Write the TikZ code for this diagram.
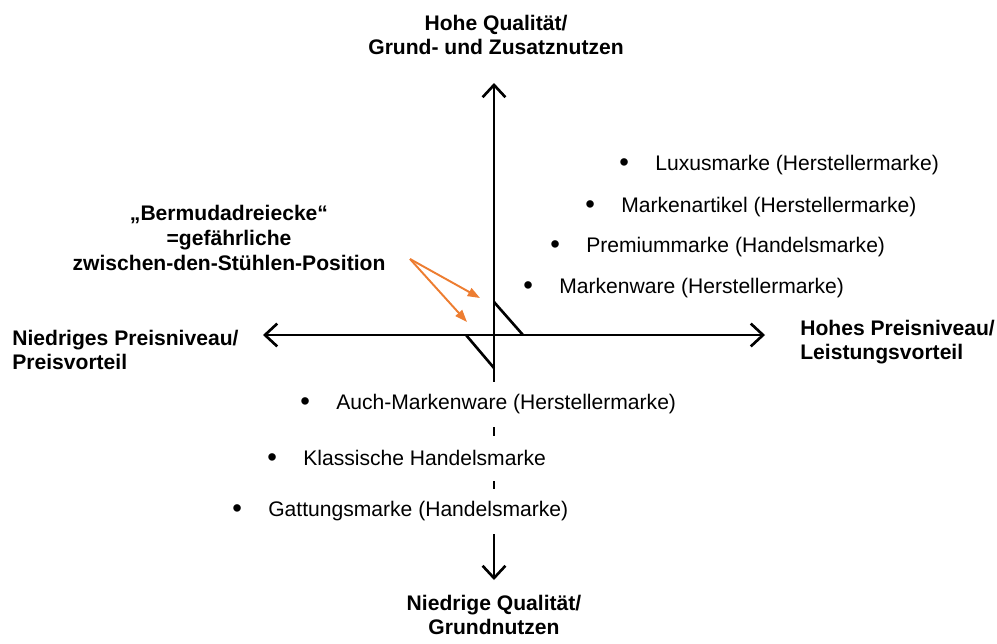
\documentclass[tikz,border=0pt]{standalone}
\usepackage{fontspec}
\setmainfont{Liberation Sans}
\usetikzlibrary{arrows.meta}
\definecolor{bermudaorange}{RGB}{237,125,49}

\newcommand{\marke}[1]{\raisebox{-0.06em}{\scalebox{1.3}{\textbullet}}\hspace{15pt}#1}

\begin{document}
\begin{tikzpicture}[x=0.02cm, y=-0.02cm, font=\fontsize{12}{14}\selectfont]
        \tikzstyle{axis}=[line width=1.5pt, {Straight Barb[length=7pt,width=13pt]}-{Straight Barb[length=7pt,width=13pt]}]
        \tikzstyle{pole}=[font=\fontsize{12}{14}\selectfont\bfseries, align=center, inner sep=0pt]
        \tikzstyle{marke}=[anchor=west, inner xsep=0pt, inner ysep=0pt]
        \tikzstyle{lowmarke}=[marke, fill=white, minimum height=0.9cm]
        \tikzstyle{hint}=[bermudaorange, line width=1.1pt, -{Triangle[length=7pt,width=5pt]}]

        \useasboundingbox (0,0) rectangle (997,643);

        \coordinate (A_top) at (494,83);
        \coordinate (A_bottom) at (494,580);
        \coordinate (A_left) at (263,335);
        \coordinate (A_right) at (765,335);

        \draw[axis] (A_bottom) -- (A_top);
        \draw[axis] (A_left) -- (A_right);

        % Bermudadreiecke
        \coordinate (T_1a) at (494,302);
        \coordinate (T_1b) at (523,335);
        \coordinate (T_2a) at (466,335);
        \coordinate (T_2b) at (494,368);
        \draw[line width=1.5pt] (T_1a) -- (T_1b);
        \draw[line width=1.5pt] (T_2a) -- (T_2b);

        \node[pole] (Q_hi) at (496,35) {Hohe Qualität/\\Grund- und Zusatznutzen};
        \node[pole] (Q_lo) at (494,615) {Niedrige Qualität/\\Grundnutzen};
        \node[pole, align=left, anchor=west] (P_lo) at (12,350) {Niedriges Preisniveau/\\Preisvorteil};
        \node[pole, align=left, anchor=west] (P_hi) at (800,342) {Hohes Preisniveau/\\Leistungsvorteil};
        \node[pole] (Bermuda) at (229,238) {„Bermudadreiecke“\\=gefährliche\\zwischen-den-Stühlen-Position};

        \node[marke] (M_1) at (619,165) {\marke{Luxusmarke (Herstellermarke)}};
        \node[marke] (M_2) at (585,207) {\marke{Markenartikel (Herstellermarke)}};
        \node[marke] (M_3) at (550,247) {\marke{Premiummarke (Handelsmarke)}};
        \node[marke] (M_4) at (523,288) {\marke{Markenware (Herstellermarke)}};
        \node[lowmarke] (M_5) at (300,404) {\marke{Auch-Markenware (Herstellermarke)}};
        \node[lowmarke] (M_6) at (267,458) {\marke{Klassische Handelsmarke}};
        \node[lowmarke] (M_7) at (232,511) {\marke{Gattungsmarke (Handelsmarke)}};

        \coordinate (B_from) at (410,259);
        \coordinate (B_to1) at (480,298);
        \coordinate (B_to2) at (467,322);
        \draw[hint] (B_from) -- (B_to1);
        \draw[hint] (B_from) -- (B_to2);
    \end{tikzpicture}
\end{document}
